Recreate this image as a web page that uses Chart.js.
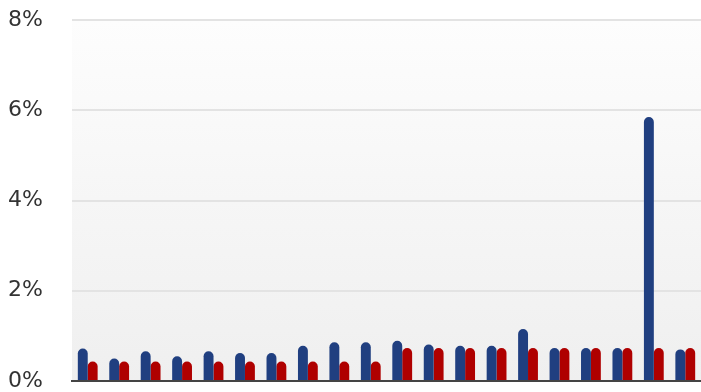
<!DOCTYPE html>
<html>
<head>
<meta charset="utf-8">
<script src="https://cdn.jsdelivr.net/npm/chart.js@4/dist/chart.umd.min.js"></script>
<style>
html,body{margin:0;padding:0;background:#ffffff;overflow:hidden;}
</style>
</head>
<body>
<canvas id="c" width="701" height="392"></canvas>
<script>
const categories = ["1","2","3","4","5","6","7","8","9","10","11","12","13","14","15","16","17","18","19","20"];
const seriesBlue = [0.72,0.50,0.66,0.55,0.66,0.62,0.62,0.78,0.86,0.86,0.89,0.81,0.78,0.78,1.15,0.73,0.73,0.73,5.85,0.70];
const seriesRed  = [0.43,0.43,0.43,0.43,0.43,0.43,0.43,0.43,0.43,0.43,0.73,0.73,0.73,0.73,0.73,0.73,0.73,0.73,0.73,0.73];
const yTicks = [0,2,4,6,8];

const bgPlugin = {
  id:'bg',
  beforeDraw(chart){
    const {ctx, chartArea:a} = chart;
    const g = ctx.createLinearGradient(0,a.top,0,a.bottom);
    g.addColorStop(0,'#fdfdfd');
    g.addColorStop(1,'#efefef');
    ctx.save();
    ctx.fillStyle = g;
    ctx.fillRect(a.left,a.top,a.right-a.left,a.bottom-a.top);
    ctx.restore();
  }
};

new Chart(document.getElementById('c'),{
  type:'bar',
  data:{
    labels:categories,
    datasets:[
      {data:seriesBlue, backgroundColor:'#203f80', borderRadius:{topLeft:5,topRight:5}, borderSkipped:'bottom'},
      {data:seriesRed, backgroundColor:'#af0000', borderRadius:{topLeft:5,topRight:5}, borderSkipped:'bottom'}
    ]
  },
  options:{
    responsive:false,
    animation:false,
    layout:{padding:{top:20,right:0,bottom:0,left:8}},
    plugins:{legend:{display:false},tooltip:{enabled:false}},
    datasets:{bar:{categoryPercentage:0.63,barPercentage:1.0}},
    scales:{
      x:{
        grid:{display:false,drawTicks:false},
        border:{display:true,color:'#444444',width:2},
        ticks:{display:false},
        afterFit(s){s.height=11;s.paddingLeft=0;s.paddingRight=0;}
      },
      y:{
        min:0,max:8,
        afterBuildTicks(s){s.ticks = yTicks.map(v=>({value:v}));},
        grid:{color:'#e3e3e3',lineWidth:2,drawTicks:false},
        border:{display:false},
        ticks:{
          padding:0,
          crossAlign:'far',
          color:'#333333',
          font:{family:'DejaVu Sans',size:22},
          callback:v=>v+'%'
        },
        afterFit(s){s.width=64;s.paddingTop=0;s.paddingBottom=0;}
      }
    }
  },
  plugins:[bgPlugin]
});
</script>
</body>
</html>
